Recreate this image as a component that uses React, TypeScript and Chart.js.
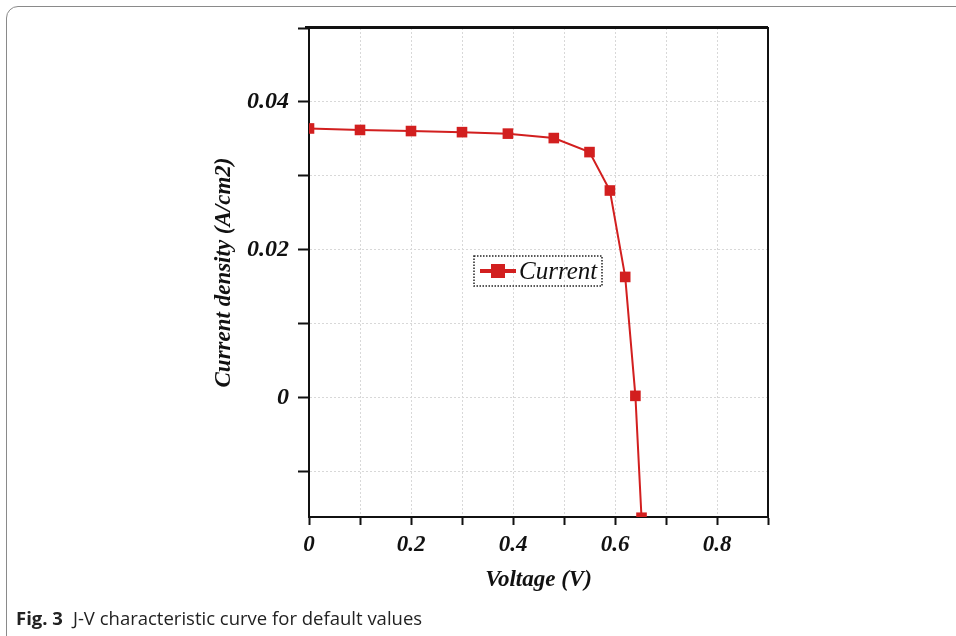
import React, { useEffect, useRef } from "react";
import { Chart, registerables } from "chart.js";

Chart.register(...registerables);

const voltage = [0, 0.1, 0.2, 0.3, 0.39, 0.48, 0.55, 0.59, 0.62, 0.64, 0.652];
const currentDensity = [0.0364, 0.0362, 0.03605, 0.0359, 0.0357, 0.0351, 0.0332, 0.028, 0.0163, 0.0002, -0.0163];
const seriesLabel = "Current";
const xTitle = "Voltage (V)";
const yTitle = "Current density (A/cm2)";
const captionBold = "Fig. 3";
const captionText = "J-V characteristic curve for default values";

const RED = "#d21f1f";
const SERIF = "'Liberation Serif', 'Times New Roman', serif";

const frameAndLegend = {
  id: "frameAndLegend",
  afterDraw(chart: any) {
    const { ctx, chartArea: ca } = chart;
    ctx.save();
    ctx.strokeStyle = "#111";
    ctx.lineWidth = 2;
    ctx.beginPath();
    ctx.moveTo(ca.left - 4, ca.top);
    ctx.lineTo(ca.right, ca.top);
    ctx.lineTo(ca.right, ca.bottom);
    ctx.stroke();
    ctx.lineWidth = 1;
    ctx.beginPath();
    ctx.moveTo(ca.left - 4, ca.top - 1.5);
    ctx.lineTo(ca.right, ca.top - 1.5);
    ctx.stroke();

    // legend
    const lx = ca.left + 165;
    const ly = ca.top + 228;
    const lw = 128;
    const lh = 30;
    ctx.setLineDash([1.5, 1.5]);
    ctx.lineWidth = 1.5;
    ctx.strokeStyle = "#222";
    ctx.strokeRect(lx, ly, lw, lh);
    ctx.setLineDash([]);
    ctx.strokeStyle = RED;
    ctx.lineWidth = 4;
    ctx.beginPath();
    ctx.moveTo(lx + 6, ly + lh / 2);
    ctx.lineTo(lx + 42, ly + lh / 2);
    ctx.stroke();
    ctx.fillStyle = RED;
    ctx.fillRect(lx + 24 - 7, ly + lh / 2 - 7, 14, 14);
    ctx.fillStyle = "#111";
    ctx.font = `italic 25px ${SERIF}`;
    ctx.textBaseline = "middle";
    ctx.textAlign = "left";
    ctx.fillText(seriesLabel, lx + 45, ly + lh / 2 + 1);
    ctx.restore();
  },
};

export default function App() {
  const ref = useRef<HTMLCanvasElement | null>(null);

  useEffect(() => {
    if (!ref.current) return;
    const points = voltage.map((v, i) => ({ x: v, y: currentDensity[i] }));
    const xFont = { family: SERIF, size: 23, style: "italic" as const, weight: "bold" as const };
    const yFont = { family: SERIF, size: 24, style: "italic" as const, weight: "bold" as const };
    const chart = new Chart(ref.current, {
      type: "line",
      data: {
        datasets: [
          {
            label: seriesLabel,
            data: points,
            borderColor: RED,
            backgroundColor: RED,
            borderWidth: 2,
            pointStyle: "rect",
            pointRadius: 7.5,
            pointHoverRadius: 7.5,
            pointBorderWidth: 0,
            tension: 0,
          },
        ],
      },
      options: {
        animation: false,
        responsive: true,
        maintainAspectRatio: false,
        events: [],
        layout: { padding: { left: 206, top: 28, right: 188, bottom: 38 } },
        plugins: { legend: { display: false }, tooltip: { enabled: false } },
        scales: {
          x: {
            type: "linear",
            min: 0,
            max: 0.9,
            afterFit: (s: any) => {
              s.height = 81;
            },
            ticks: {
              stepSize: 0.1,
              color: "#111",
              font: xFont,
              padding: 6,
              maxRotation: 0,
              autoSkip: false,
              includeBounds: false,
              callback: (v: any) => {
                const k = Math.round(Number(v) * 10);
                if (k % 2 !== 0 || k > 8) return "";
                return k === 0 ? "0" : (k / 10).toFixed(1);
              },
            },
            grid: {
              color: "#d8d8d8",
              lineWidth: 1,
              tickColor: "#111",
              tickLength: 8,
              tickWidth: 2,
            },
            border: { display: true, color: "#111", width: 2, dash: [2, 2] },
            title: {
              display: true,
              text: xTitle,
              color: "#111",
              font: xFont,
              padding: { top: 4, bottom: 4 },
            },
          },
          y: {
            type: "linear",
            min: -0.0162,
            max: 0.05,
            afterFit: (s: any) => {
              s.width = 103;
            },
            ticks: {
              stepSize: 0.01,
              color: "#111",
              font: yFont,
              padding: 9,
              autoSkip: false,
              includeBounds: false,
              callback: (v: any) => {
                const k = Math.round(Number(v) * 100);
                if (k % 2 !== 0 || k < 0 || k > 4) return "";
                return k === 0 ? "0" : (k / 100).toFixed(2);
              },
            },
            grid: {
              color: "#d8d8d8",
              lineWidth: 1,
              tickColor: "#111",
              tickLength: 11,
              tickWidth: 2,
            },
            border: { display: true, color: "#111", width: 2, dash: [2, 2] },
            title: {
              display: true,
              text: yTitle,
              color: "#111",
              font: xFont,
              padding: { top: 4, bottom: 4 },
            },
          },
        },
      },
      plugins: [frameAndLegend],
    });
    return () => chart.destroy();
  }, []);

  return (
    <div style={{ position: "absolute", left: 0, top: 0, width: 956, height: 636, overflow: "hidden", background: "#fff" }}>
      <div
        style={{
          position: "absolute",
          left: 6,
          top: 6,
          width: 1000,
          height: 700,
          border: "1px solid #8a8a8a",
          borderTopLeftRadius: 12,
        }}
      />
      <div style={{ position: "absolute", left: 0, top: 0, width: 956, height: 636 }}>
        <canvas ref={ref} />
      </div>
      <div
        style={{
          position: "absolute",
          left: 16,
          top: 605,
          fontFamily: "'Open Sans', 'Noto Sans', sans-serif",
          fontSize: 18.5,
          lineHeight: "26px",
          color: "#222",
          whiteSpace: "nowrap",
        }}
      >
        <b>{captionBold}</b>
        <span style={{ marginLeft: 10 }}>{captionText}</span>
      </div>
    </div>
  );
}
